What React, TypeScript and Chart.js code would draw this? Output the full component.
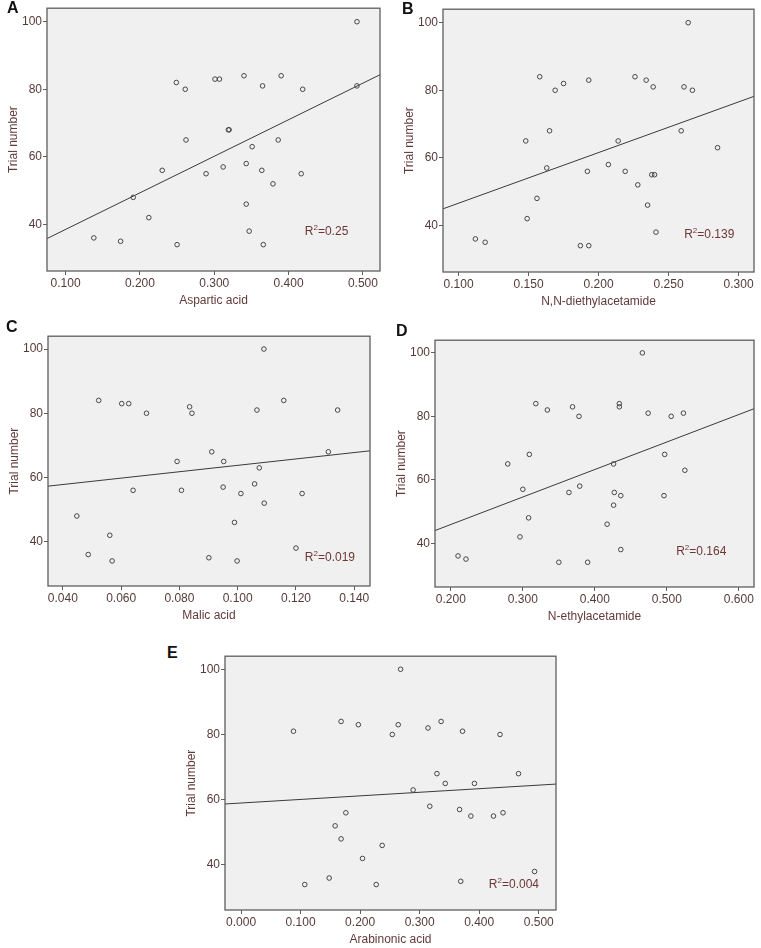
import React, { useEffect, useRef } from "react";
import { Chart, registerables } from "chart.js";

Chart.register(...registerables);

// ---------- data ----------
const yTicks = [40, 60, 80, 100];
const yRange = [26.2, 104.0];

const aspX = [0.492, 0.492, 0.249, 0.261, 0.301, 0.307, 0.340, 0.365, 0.390, 0.419, 0.262, 0.319, 0.320, 0.386, 0.351, 0.230, 0.289, 0.312, 0.343, 0.364, 0.417, 0.379, 0.191, 0.343, 0.212, 0.347, 0.138, 0.174, 0.250, 0.366];
const aspY = [100, 81, 82, 80, 83, 83, 84, 81, 84, 80, 65, 68, 68, 65, 63, 56, 55, 57, 58, 56, 55, 52, 48, 46, 42, 38, 36, 35, 34, 34];
const aspTicks = [0.1, 0.2, 0.3, 0.4, 0.5];
const aspRange = [0.075, 0.523];
const aspFit = [35.8, 84.3];

const deaX = [0.264, 0.158, 0.175, 0.169, 0.193, 0.226, 0.234, 0.239, 0.261, 0.267, 0.148, 0.165, 0.214, 0.259, 0.285, 0.163, 0.192, 0.207, 0.219, 0.238, 0.240, 0.228, 0.156, 0.235, 0.149, 0.241, 0.112, 0.119, 0.187, 0.193];
const deaY = [100, 84, 82, 80, 83, 84, 83, 81, 81, 80, 65, 68, 65, 68, 63, 57, 56, 58, 56, 55, 55, 52, 48, 46, 42, 38, 36, 35, 34, 34];
const deaTicks = [0.1, 0.15, 0.2, 0.25, 0.3];
const deaRange = [0.0889, 0.311];
const deaFit = [44.9, 78.2];

const malX = [0.109, 0.0523, 0.0602, 0.0626, 0.0687, 0.0835, 0.0843, 0.1066, 0.1158, 0.1343, 0.0911, 0.1311, 0.0792, 0.0952, 0.1074, 0.0641, 0.0807, 0.095, 0.1058, 0.1011, 0.1221, 0.1091, 0.0448, 0.0989, 0.0561, 0.12, 0.0487, 0.0901, 0.0569, 0.0998];
const malY = [100, 84, 83, 83, 80, 82, 80, 81, 84, 81, 68, 68, 65, 65, 63, 56, 56, 57, 58, 55, 55, 52, 48, 46, 42, 38, 36, 35, 34, 34];
const malTicks = [0.04, 0.06, 0.08, 0.1, 0.12, 0.14];
const malRange = [0.0349, 0.1454];
const malFit = [57.3, 68.3];

const neaX = [0.466, 0.318, 0.334, 0.369, 0.378, 0.434, 0.434, 0.474, 0.506, 0.523, 0.279, 0.309, 0.426, 0.497, 0.525, 0.300, 0.364, 0.379, 0.427, 0.436, 0.496, 0.426, 0.308, 0.417, 0.296, 0.436, 0.210, 0.221, 0.350, 0.390];
const neaY = [100, 84, 82, 83, 80, 84, 83, 81, 80, 81, 65, 68, 65, 68, 63, 57, 56, 58, 56, 55, 55, 52, 48, 46, 42, 38, 36, 35, 34, 34];
const neaTicks = [0.2, 0.3, 0.4, 0.5, 0.6];
const neaRange = [0.178, 0.621];
const neaFit = [44.0, 82.4];

const araX = [0.268, 0.088, 0.168, 0.197, 0.264, 0.254, 0.314, 0.336, 0.372, 0.435, 0.329, 0.466, 0.343, 0.392, 0.289, 0.317, 0.367, 0.386, 0.424, 0.440, 0.176, 0.158, 0.168, 0.237, 0.204, 0.493, 0.148, 0.107, 0.227, 0.369];
const araY = [100, 81, 84, 83, 83, 80, 82, 84, 81, 80, 68, 68, 65, 65, 63, 58, 57, 55, 55, 56, 56, 52, 48, 46, 42, 38, 36, 34, 34, 35];
const araTicks = [0.0, 0.1, 0.2, 0.3, 0.4, 0.5];
const araRange = [-0.027, 0.529];
const araFit = [58.7, 64.8];

// ---------- style ----------
const FONT = "'Liberation Sans', Arial, Helvetica, sans-serif";
const TICK_COLOR = "#553a3a";
const TITLE_COLOR = "#623a3a";
const R2_COLOR = "#6e3636";
const BG = "#f0f0f0";
const BORDER = "#5e5e5e";
const Y_AXIS_W = 41;
const X_AXIS_H = 37;
const PAD_TOP = 6;
const PAD_RIGHT = 4;

type PanelProps = {
  xs: number[];
  ys: number[];
  ticks: number[];
  range: number[];
  fit: number[];
  r2: string;
  xTitle: string;
  plot: { left: number; top: number; right: number; bottom: number };
  r2Off: { dx: number; dy: number };
};

function Panel(p: PanelProps) {
  const ref = useRef<HTMLCanvasElement | null>(null);
  const w = p.plot.right - p.plot.left + Y_AXIS_W + PAD_RIGHT;
  const h = p.plot.bottom - p.plot.top + PAD_TOP + X_AXIS_H;

  useEffect(() => {
    if (!ref.current) return;
    const pts = p.xs.map((x, i) => ({ x, y: p.ys[i] }));
    const bgPlugin = {
      id: "bgbox",
      beforeDatasetsDraw(chart: any) {
        const { ctx, chartArea: a } = chart;
        ctx.save();
        ctx.fillStyle = BG;
        ctx.fillRect(a.left, a.top, a.right - a.left, a.bottom - a.top);
        ctx.restore();
      },
      afterDraw(chart: any) {
        const { ctx, chartArea: a } = chart;
        ctx.save();
        ctx.strokeStyle = BORDER;
        ctx.lineWidth = 1.3;
        ctx.strokeRect(a.left, a.top, a.right - a.left, a.bottom - a.top);
        // R^2 label
        const right = a.right - p.r2Off.dx;
        const cy = a.bottom - p.r2Off.dy;
        ctx.fillStyle = R2_COLOR;
        ctx.textBaseline = "middle";
        ctx.textAlign = "left";
        ctx.font = `12px ${FONT}`;
        const wR = ctx.measureText("R").width;
        const rest = "=" + p.r2;
        const wRest = ctx.measureText(rest).width;
        ctx.font = `8px ${FONT}`;
        const w2 = ctx.measureText("2").width;
        const total = wR + w2 + wRest;
        let x = right - total;
        ctx.font = `12px ${FONT}`;
        ctx.fillText("R", x, cy);
        x += wR;
        ctx.font = `8px ${FONT}`;
        ctx.fillText("2", x, cy - 4);
        x += w2;
        ctx.font = `12px ${FONT}`;
        ctx.fillText(rest, x, cy);
        ctx.restore();
      },
    };

    const chart = new Chart(ref.current, {
      type: "scatter",
      data: {
        datasets: [
          {
            type: "scatter",
            data: pts,
            pointRadius: 2.3,
            pointBorderWidth: 1,
            borderColor: "#474747",
            backgroundColor: "rgba(0,0,0,0)",
            pointStyle: "circle",
            order: 1,
          } as any,
          {
            type: "line",
            data: [
              { x: p.range[0], y: p.fit[0] },
              { x: p.range[1], y: p.fit[1] },
            ],
            borderColor: "#3a3a3a",
            borderWidth: 1,
            pointRadius: 0,
            fill: false,
            tension: 0,
            order: 2,
          } as any,
        ],
      },
      options: {
        animation: false,
        responsive: false,
        devicePixelRatio: 1,
        events: [],
        layout: { padding: { top: PAD_TOP, right: PAD_RIGHT, left: 0, bottom: 0 } },
        plugins: { legend: { display: false }, tooltip: { enabled: false } },
        scales: {
          x: {
            type: "linear",
            min: p.range[0],
            max: p.range[1],
            afterBuildTicks: (s: any) => {
              s.ticks = p.ticks.map((v) => ({ value: v }));
            },
            afterFit: (s: any) => {
              s.height = X_AXIS_H;
            },
            ticks: {
              autoSkip: false,
              maxRotation: 0,
              minRotation: 0,
              padding: 1,
              color: TICK_COLOR,
              font: { family: FONT, size: 12 },
              callback: (v: any) => Number(v).toFixed(3),
            },
            grid: { display: true, drawOnChartArea: false, drawTicks: true, tickLength: 4, color: BORDER },
            border: { display: false },
            title: { display: true, text: p.xTitle, color: TITLE_COLOR, font: { family: FONT, size: 12 }, padding: 0 },
          },
          y: {
            type: "linear",
            min: yRange[0],
            max: yRange[1],
            afterBuildTicks: (s: any) => {
              s.ticks = yTicks.map((v) => ({ value: v }));
            },
            afterFit: (s: any) => {
              s.width = Y_AXIS_W;
            },
            ticks: {
              padding: 1,
              color: TICK_COLOR,
              font: { family: FONT, size: 12 },
              callback: (v: any) => String(v),
            },
            grid: { display: true, drawOnChartArea: false, drawTicks: true, tickLength: 4, color: BORDER },
            border: { display: false },
            title: { display: true, text: "Trial number", color: TITLE_COLOR, font: { family: FONT, size: 12 }, padding: 0 },
          },
        },
      } as any,
      plugins: [bgPlugin],
    });
    return () => chart.destroy();
  }, []);

  return (
    <canvas
      ref={ref}
      width={w}
      height={h}
      style={{
        position: "absolute",
        left: p.plot.left - Y_AXIS_W,
        top: p.plot.top - PAD_TOP,
        width: w,
        height: h,
        display: "block",
      }}
    />
  );
}

const letterStyle = (left: number, top: number): React.CSSProperties => ({
  position: "absolute",
  left,
  top,
  fontFamily: FONT,
  fontWeight: "bold",
  fontSize: 16,
  lineHeight: "16px",
  color: "#111",
});

export default function App() {
  return (
    <div style={{ position: "absolute", left: 0, top: 0, width: 761, height: 948, background: "#fff", overflow: "hidden" }}>
      <Panel xs={aspX} ys={aspY} ticks={aspTicks} range={aspRange} fit={aspFit} r2="0.25" xTitle="Aspartic acid"
        plot={{ left: 47, top: 6, right: 381, bottom: 271 }} r2Off={{ dx: 31.7, dy: 39 }} />
      <Panel xs={deaX} ys={deaY} ticks={deaTicks} range={deaRange} fit={deaFit} r2="0.139" xTitle="N,N-diethylacetamide"
        plot={{ left: 443, top: 7, right: 755, bottom: 272 }} r2Off={{ dx: 19.7, dy: 37 }} />
      <Panel xs={malX} ys={malY} ticks={malTicks} range={malRange} fit={malFit} r2="0.019" xTitle="Malic acid"
        plot={{ left: 48, top: 334, right: 371, bottom: 586 }} r2Off={{ dx: 15, dy: 28.7 }} />
      <Panel xs={neaX} ys={neaY} ticks={neaTicks} range={neaRange} fit={neaFit} r2="0.164" xTitle="N-ethylacetamide"
        plot={{ left: 435, top: 338, right: 755, bottom: 587 }} r2Off={{ dx: 27.7, dy: 35.3 }} />
      <Panel xs={araX} ys={araY} ticks={araTicks} range={araRange} fit={araFit} r2="0.004" xTitle="Arabinonic acid"
        plot={{ left: 225, top: 654, right: 557, bottom: 910 }} r2Off={{ dx: 17, dy: 25 }} />
      <div style={letterStyle(7, 0)}>A</div>
      <div style={letterStyle(402, 1)}>B</div>
      <div style={letterStyle(6, 319)}>C</div>
      <div style={letterStyle(396, 323)}>D</div>
      <div style={letterStyle(167, 645)}>E</div>
    </div>
  );
}
